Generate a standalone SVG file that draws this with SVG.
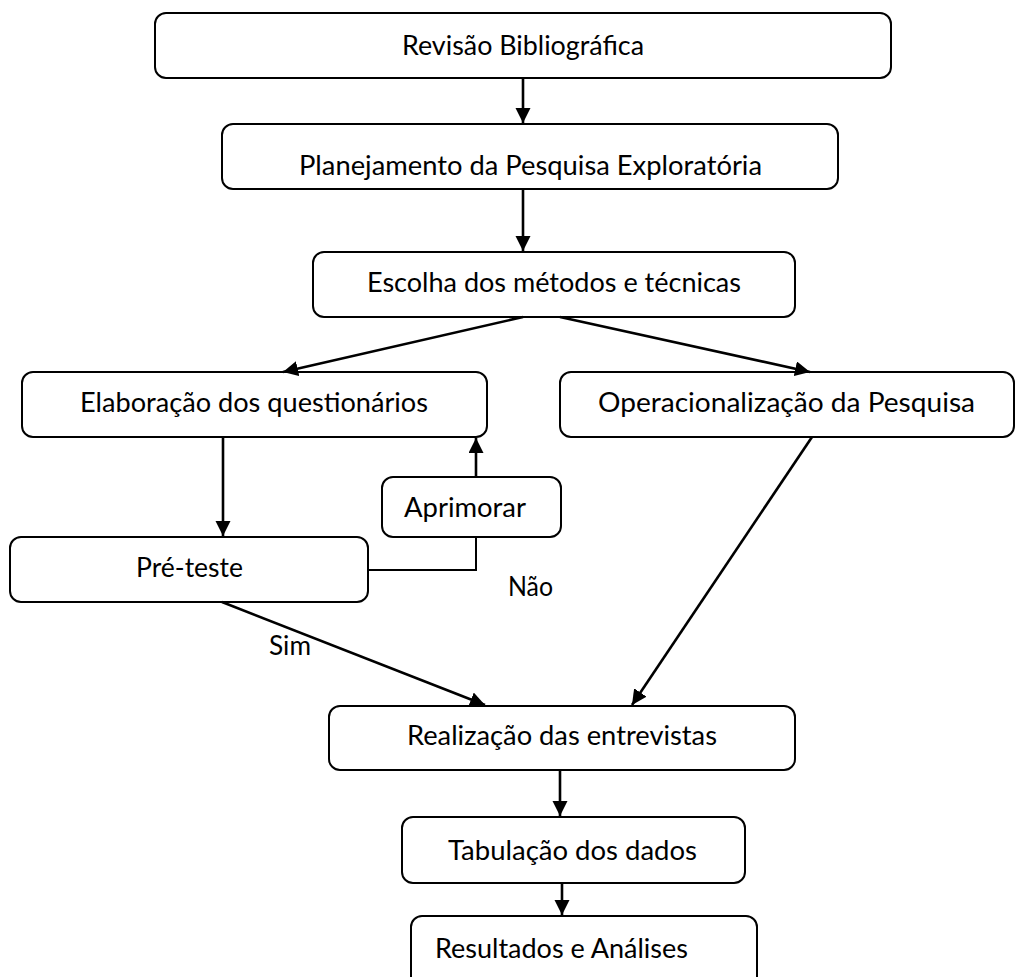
<svg xmlns="http://www.w3.org/2000/svg" width="1016" height="977" viewBox="0 0 1016 977">
<style>
.box{fill:#fff;stroke:#000;stroke-width:2}
.t{font-family:Lato,"Open Sans","Liberation Sans",sans-serif;font-size:27px;fill:#000}
.c{fill:none;stroke:#000;stroke-width:2.6}
.thin{fill:none;stroke:#000;stroke-width:2}
</style>
<defs>
<marker id="ah" markerUnits="userSpaceOnUse" markerWidth="16" markerHeight="16" refX="15" refY="7.5" orient="auto" viewBox="0 0 16 16">
<path d="M0,0 L15,7.5 L0,15 z" fill="#000"/>
</marker>
</defs>
<rect width="1016" height="977" fill="#fff"/>
<g id="n1"><rect class="box" x="155" y="13" width="736" height="65" rx="11"/><text class="t" x="402" y="55" textLength="242" lengthAdjust="spacingAndGlyphs">Revisão Bibliográfica</text></g>
<g id="n2"><rect class="box" x="222" y="124" width="616" height="65" rx="11"/><text class="t" x="299" y="175" textLength="463" lengthAdjust="spacingAndGlyphs">Planejamento da Pesquisa Exploratória</text></g>
<g id="n3"><rect class="box" x="313" y="252" width="482" height="65" rx="11"/><text class="t" x="367" y="292" textLength="374" lengthAdjust="spacingAndGlyphs">Escolha dos métodos e técnicas</text></g>
<g id="n4"><rect class="box" x="22" y="372" width="465" height="65" rx="11"/><text class="t" x="80" y="412" textLength="348" lengthAdjust="spacingAndGlyphs">Elaboração dos questionários</text></g>
<g id="n5"><rect class="box" x="560" y="372" width="454" height="65" rx="11"/><text class="t" x="598" y="412" textLength="377" lengthAdjust="spacingAndGlyphs">Operacionalização da Pesquisa</text></g>
<g id="n6"><rect class="box" x="382" y="477" width="179" height="60" rx="11"/><text class="t" x="404" y="517" textLength="122" lengthAdjust="spacingAndGlyphs">Aprimorar</text></g>
<g id="n7"><rect class="box" x="10" y="537" width="358" height="65" rx="11"/><text class="t" x="136" y="577" textLength="107" lengthAdjust="spacingAndGlyphs">Pré-teste</text></g>
<g id="n8"><rect class="box" x="329" y="706" width="466" height="64" rx="11"/><text class="t" x="407" y="745" textLength="310" lengthAdjust="spacingAndGlyphs">Realização das entrevistas</text></g>
<g id="n9"><rect class="box" x="402" y="817" width="343" height="66" rx="11"/><text class="t" x="448" y="860" textLength="249" lengthAdjust="spacingAndGlyphs">Tabulação dos dados</text></g>
<g id="n10"><rect class="box" x="411" y="916" width="346" height="80" rx="11"/><text class="t" x="435" y="958" textLength="253" lengthAdjust="spacingAndGlyphs">Resultados e Análises</text></g>
<g id="connectors">
<line class="c" x1="523" y1="78" x2="523" y2="123" marker-end="url(#ah)"/>
<line class="c" x1="523" y1="189" x2="523" y2="251" marker-end="url(#ah)"/>
<line class="c" x1="523" y1="317" x2="283" y2="372" marker-end="url(#ah)"/>
<line class="c" x1="560" y1="317" x2="810" y2="372" marker-end="url(#ah)"/>
<line class="c" x1="223" y1="437" x2="223" y2="536" marker-end="url(#ah)"/>
<line class="c" x1="476" y1="477" x2="476" y2="438" marker-end="url(#ah)"/>
<polyline class="thin" points="368,570 476,570 476,537"/>
<line class="c" x1="222" y1="602" x2="485" y2="705" marker-end="url(#ah)"/>
<line class="c" x1="812" y1="437" x2="632" y2="705" marker-end="url(#ah)"/>
<line class="c" x1="560" y1="770" x2="560" y2="816" marker-end="url(#ah)"/>
<line class="c" x1="562" y1="883" x2="562" y2="915" marker-end="url(#ah)"/>
</g>
<text class="t" x="508" y="596" textLength="45" lengthAdjust="spacingAndGlyphs">Não</text>
<text class="t" x="269" y="655" textLength="42" lengthAdjust="spacingAndGlyphs">Sim</text>
</svg>
